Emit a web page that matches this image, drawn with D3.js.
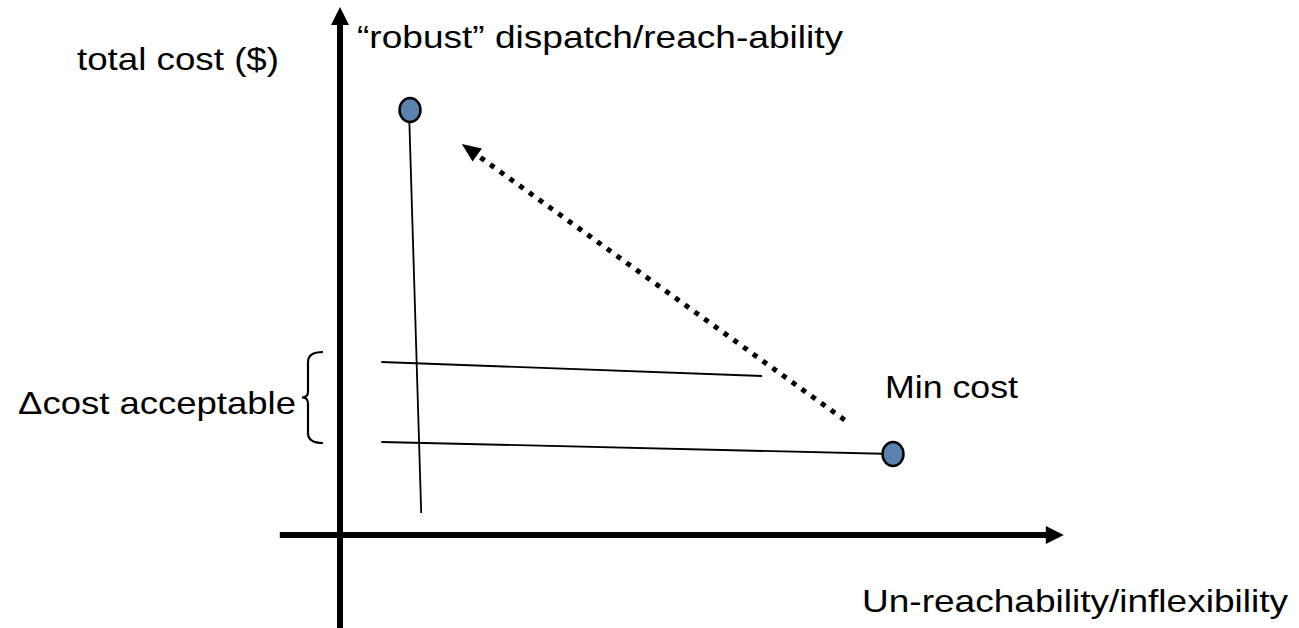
<!DOCTYPE html>
<html>
<head>
<meta charset="utf-8">
<script src="https://cdn.jsdelivr.net/npm/d3@7"></script>
<style>
  html, body { margin: 0; padding: 0; background: #fff; }
  svg { display: block; }
  text { font-family: "Liberation Sans", Arial, sans-serif; fill: #000; }
</style>
</head>
<body>
<svg id="chart" width="1299" height="628"></svg>
<script>
// ---- data (conceptual units) ----
const xAxisExtent = [-8.6, 103.4];
const yAxisExtent = [-18.6, 105.6];
const pointNames = ["robust", "minCost"];
const pointX = [10, 79];
const pointY = [85, 16.2];
const verticalLine = [[9.9, 83], [11.6, 4.4]];
const upperLine = [[5.9, 34.6], [60.3, 31.8]];
const lowerLine = [[5.9, 18.6], [79, 16.2]];
const trendArrow = [[72.1, 23], [17.4, 78.2]];
const braceRange = [18.4, 36.6];
const labelTexts = ["total cost ($)", "\u201crobust\u201d dispatch/reach-ability", "Un-reachability/inflexibility", "\u0394cost acceptable", "Min cost"];

// ---- scales ----
const svg = d3.select("#chart");
const x = d3.scaleLinear().domain([0, 100]).range([340, 1040]);
const y = d3.scaleLinear().domain([0, 100]).range([535, 35]);
const line = d3.line().x(d => x(d[0])).y(d => y(d[1]));

// ---- axes ----
const axisW = 6, headLen = 18, headHalf = 9;
const xa0 = x(xAxisExtent[0]), xa1 = x(xAxisExtent[1]), ya = y(0);
svg.append("line").attr("x1", xa0).attr("y1", ya).attr("x2", xa1 - headLen + 2).attr("y2", ya)
  .attr("stroke", "#000").attr("stroke-width", axisW);
svg.append("path").attr("d", `M${xa1},${ya} L${xa1 - headLen},${ya - headHalf} L${xa1 - headLen},${ya + headHalf} Z`).attr("fill", "#000");
const ya0 = y(yAxisExtent[0]), ya1 = y(yAxisExtent[1]), xa = x(0);
svg.append("line").attr("x1", xa).attr("y1", ya0).attr("x2", xa).attr("y2", ya1 + headLen - 2)
  .attr("stroke", "#000").attr("stroke-width", axisW);
svg.append("path").attr("d", `M${xa},${ya1} L${xa - headHalf},${ya1 + headLen} L${xa + headHalf},${ya1 + headLen} Z`).attr("fill", "#000");

// ---- thin lines ----
[verticalLine, upperLine, lowerLine].forEach(seg => {
  svg.append("path").attr("d", line(seg)).attr("fill", "none").attr("stroke", "#000").attr("stroke-width", 1.8);
});

// ---- dotted trend arrow ----
const [ta0, ta1] = trendArrow;
const p0 = [x(ta0[0]), y(ta0[1])], p1 = [x(ta1[0]), y(ta1[1])];
const ang = Math.atan2(p1[1] - p0[1], p1[0] - p0[0]);
const ahL = 19, ahW = 8;
const base = [p1[0] - ahL * Math.cos(ang), p1[1] - ahL * Math.sin(ang)];
svg.append("line").attr("x1", p0[0]).attr("y1", p0[1]).attr("x2", base[0]).attr("y2", base[1])
  .attr("stroke", "#000").attr("stroke-width", 5).attr("stroke-dasharray", "5,7");
svg.append("path").attr("d",
  `M${p1[0]},${p1[1]} L${base[0] + ahW * Math.sin(ang)},${base[1] - ahW * Math.cos(ang)} L${base[0] - ahW * Math.sin(ang)},${base[1] + ahW * Math.cos(ang)} Z`)
  .attr("fill", "#000");

// ---- points ----
svg.selectAll("ellipse.pt").data(pointNames).enter().append("ellipse")
  .attr("class", "pt")
  .attr("cx", (d, i) => x(pointX[i])).attr("cy", (d, i) => y(pointY[i]))
  .attr("rx", 10.5).attr("ry", 12)
  .attr("fill", "#5a82ae").attr("stroke", "#000").attr("stroke-width", 2.5);

// ---- brace ----
const bTop = y(braceRange[1]), bBot = y(braceRange[0]), bMid = (bTop + bBot) / 2;
const bx = 308, bTip = 302, bEnd = 323;
svg.append("path").attr("d",
  `M${bEnd},${bTop} Q${bx},${bTop} ${bx},${bTop + 10} L${bx},${bMid - 6} Q${bx},${bMid} ${bTip},${bMid} Q${bx},${bMid} ${bx},${bMid + 6} L${bx},${bBot - 10} Q${bx},${bBot} ${bEnd},${bBot}`)
  .attr("fill", "none").attr("stroke", "#000").attr("stroke-width", 2.2);

// ---- labels ----
const fs = 32;
const labelPlace = [
  {x: 77, y: 70, w: 202},
  {x: 357, y: 48, w: 486},
  {x: 862, y: 612, w: 426},
  {x: 18, y: 414, w: 278},
  {x: 885, y: 398, w: 133}
];
svg.selectAll("text.lbl").data(labelTexts).enter().append("text")
  .attr("class", "lbl")
  .attr("x", (d, i) => labelPlace[i].x).attr("y", (d, i) => labelPlace[i].y)
  .attr("font-size", fs)
  .attr("textLength", (d, i) => labelPlace[i].w)
  .attr("lengthAdjust", "spacingAndGlyphs")
  .text(d => d);
</script>
</body>
</html>
